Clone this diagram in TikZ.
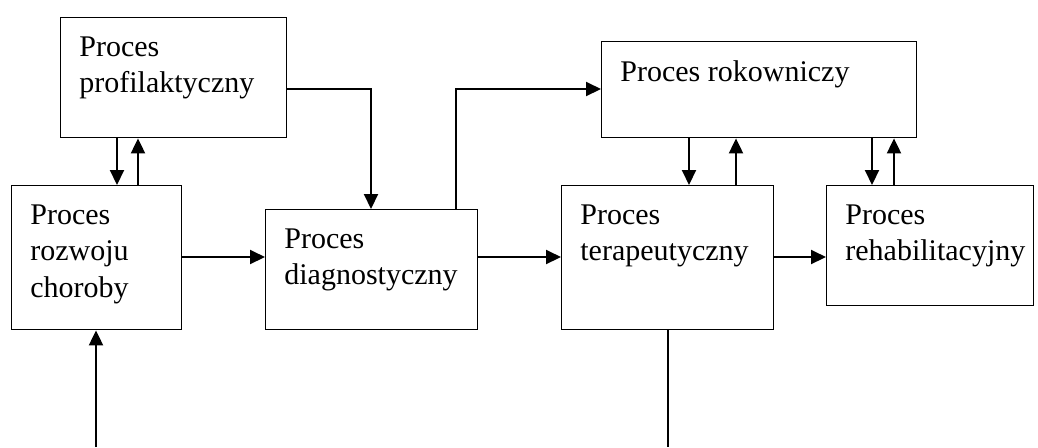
\documentclass[tikz,border=0pt]{standalone}
\usepackage{fontspec}
\setmainfont{Liberation Serif}
\usetikzlibrary{arrows.meta, calc}

\begin{document}
\begin{tikzpicture}[
		x=0.5pt, y=-0.5pt,
		box/.style	={ draw, line width=0.7pt, anchor=north west,
			inner sep=0pt
		},
		txt/.style	={ anchor=north west, align=left, inner sep=0pt,
			font=\fontsize{15}{18.25}\selectfont
		},
		arr/.style	={ line width=1pt,
			-{Triangle[length=7.5pt, width=7pt]}
		},
	]
	\useasboundingbox (0,0) rectangle (1038,447);

	% declare boxes
	\node (profil) [box, minimum width=113pt,   minimum height=60pt] at (60,17)  {};
	\node (rozwoj) [box, minimum width=85pt,    minimum height=72pt] at (11,185) {};
	\node (diag)   [box, minimum width=106pt,   minimum height=60pt] at (265,209) {};
	\node (rokow)  [box, minimum width=157.5pt, minimum height=48pt] at (601,41) {};
	\node (terap)  [box, minimum width=106pt,   minimum height=72pt] at (561,185) {};
	\node (rehab)  [box, minimum width=103.5pt, minimum height=60pt] at (826,185) {};

	% labels
	\foreach \name/\text in {profil/{Proces\\profilaktyczny},
			rozwoj/{Proces\\rozwoju\\choroby}, diag/{Proces\\diagnostyczny},
			rokow/{Proces rokowniczy}, terap/{Proces\\terapeutyczny},
			rehab/{Proces\\rehabilitacyjny}} {
			\node (t\name) [txt] at ($(\name.north west)+(19,19)$) {\text};
		}

	% helper coordinates
	\coordinate (hi)  at (0,89);
	\coordinate (row) at (0,257);
	\coordinate (c1)  at (371,0);
	\coordinate (c2)  at (456,0);
	\coordinate (in)  at (96,447);
	\coordinate (out) at (668,447);

	% double arrows between boxes
	\foreach \hi/\lo/\xd/\xu in {profil/rozwoj/117/138, rokow/terap/689/736,
			rokow/rehab/872/894} {
			\coordinate (dn) at (\xd,0);
			\coordinate (up) at (\xu,0);
			\draw [arr] (\hi.south -| dn) -- (\lo.north -| dn);
			\draw [arr] (\lo.north -| up) -- (\hi.south -| up);
		}

	% main flow
	\draw [arr] (rozwoj.east |- row) -- (diag.west |- row);
	\draw [arr] (diag.east |- row) -- (terap.west |- row);
	\draw [arr] (terap.east |- row) -- (rehab.west |- row);
	\draw [arr] (profil.east |- hi) -| (diag.north -| c1);
	\draw [arr] (diag.north -| c2) |- (rokow.west |- hi);

	% in and out
	\draw [arr] (in) -- (rozwoj.south -| in);
	\draw [line width=0.8pt] (terap.south -| out) -- (out);

\end{tikzpicture}
\end{document}
